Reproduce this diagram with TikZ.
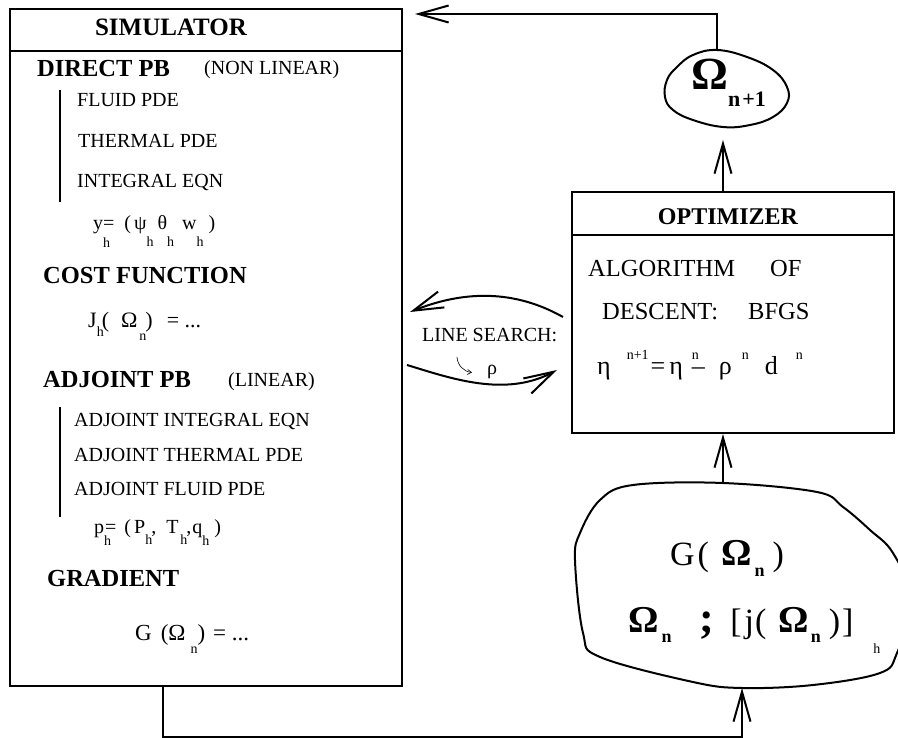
\documentclass[tikz,border=0pt]{standalone}
\usepackage{fontspec}
\setmainfont{Liberation Serif}
\usetikzlibrary{arrows.meta}
\usetikzlibrary{calc}

\newcommand{\fs}[1]{\fontsize{#1}{#1}\selectfont}
\newcommand{\lowsub}[2][12pt]{\raisebox{-#1}{\fs{14}#2}}
\newcommand{\upsup}[1]{\raisebox{15pt}{\fs{14}#1}}

\tikzset{
  txt/.style={anchor=base west, inner sep=0pt, font=\fs{20}},
  head/.style={anchor=base west, inner sep=0pt, font=\fs{24.5}\bfseries},
  opttxt/.style={anchor=base west, inner sep=0pt, font=\fs{24.5}},
  box/.style={draw, line width=2pt, inner sep=0pt},
  rule/.style={line width=2pt},
  arr/.style={line width=2pt, -{Straight Barb[length=30pt,width=17pt]}},
  smallarr/.style={line width=0.6pt, -{Straight Barb[length=4pt,width=5pt]}},
}

\begin{document}
\begin{tikzpicture}[x=1pt, y=-1pt]
  \useasboundingbox (0,0) rectangle (898,738);

  % simulator
  \node[box, minimum width=392pt, minimum height=677pt, anchor=north west] (sim) at (9,8) {};
  \draw[rule] ([yshift=-43pt]sim.north west) -- ([yshift=-43pt]sim.north east);
  \node[anchor=base, inner sep=0pt, font=\fs{25}\bfseries] (simtitle) at (171,36) {SIMULATOR};

  \node[head] (direct) at (37,77) {DIRECT PB};
  \node[txt] (nonlin) at (204,75) {(NON LINEAR)};
  \draw[rule] (60,90) -- (60,202);
  \node[txt] (fluid) at (77,107) {FLUID PDE};
  \node[txt] (thermal) at (78,148) {THERMAL PDE};
  \node[txt] (integral) at (77,188) {INTEGRAL EQN};
  \node[txt] (ystate) at (93,230) {y\rlap{\lowsub[18pt]{h}}\hspace{0pt}=\hspace{10pt}(\hspace{3pt}ψ\lowsub[17pt]{h}\hspace{4pt}θ\lowsub[17pt]{h}\hspace{8pt}w\lowsub[17pt]{h}\hspace{5pt})};

  \node[head] (cost) at (43,284) {COST FUNCTION};
  \node[txt, font=\fs{22}] (jcost) at (88,328) {J\lowsub[9pt]{h}\hspace{-2pt}(\hspace{12pt}Ω\hspace{2pt}\lowsub[13pt]{n}\hspace{-1pt})\hspace{14pt}= ...};

  \node[head] (adjoint) at (43,388) {ADJOINT PB};
  \node[txt] (lin) at (228,387) {(LINEAR)};
  \draw[rule] (60,407) -- (60,517);
  \node[txt] (adjint) at (74,427) {ADJOINT INTEGRAL EQN};
  \node[txt] (adjth) at (74,461) {ADJOINT THERMAL PDE};
  \node[txt] (adjfl) at (74,495) {ADJOINT FLUID PDE};
  \node[txt] (pstate) at (94,533) {p\rlap{\lowsub[12pt]{h}}\hspace{1pt}=\hspace{8pt}(\hspace{3pt}P\lowsub[11pt]{h}\hspace{-1pt},\hspace{10pt}T\hspace{2pt}\lowsub[11pt]{h}\hspace{-1pt},\hspace{1pt}q\rlap{\lowsub[12pt]{h}}\hspace{12pt})};

  \node[head] (grad) at (47,586) {GRADIENT};
  \node[txt, font=\fs{23}] (gform) at (135,640) {G\hspace{9pt}(Ω\rlap{\hspace{5pt}\lowsub[13pt]{n}}\hspace{12pt})\hspace{8pt}= ...};

  % optimizer
  \node[box, minimum width=322pt, minimum height=241pt, anchor=north west] (opt) at (571,191) {};
  \draw[rule] ([yshift=-44pt]opt.north west) -- ([yshift=-44pt]opt.north east);
  \node[anchor=base, inner sep=0pt, font=\fs{24}\bfseries] (opttitle) at (728,225) {OPTIMIZER};
  \node[opttxt] (algo) at (588,277) {ALGORITHM};
  \node[opttxt] (of) at (770,277) {OF};
  \node[opttxt] (descent) at (602,320) {DESCENT:};
  \node[opttxt] (bfgs) at (748,320) {BFGS};
  \node[opttxt, font=\fs{26}] (update) at (597,375) {η\hspace{16pt}\upsup{n+1}\hspace{2pt}=\hspace{4pt}η\hspace{9pt}\rlap{\upsup{n}}–\hspace{14pt}ρ\hspace{10pt}\upsup{n}\hspace{16pt}d\hspace{18pt}\upsup{n}};

  % line search
  \node[txt] (lstxt) at (422,342) {LINE SEARCH:};
  \node[txt] (rho) at (487,375) {ρ};
  \draw[smallarr] ([shift={(35pt,-15pt)}]lstxt.base west) to[bend right=40] ([xshift=-15pt]rho.west);
  \coordinate (lsa) at (563,317);
  \coordinate (lsb) at (410,312);
  \coordinate (lsc) at (407,365);
  \coordinate (lsd) at (557,370);
  \draw[arr] (lsa) .. controls (515,290) and (465,290) .. (lsb);
  \draw[arr] (lsc) .. controls (450,378) and (505,398) .. (lsd);

  % new domain
  \draw[rule] plot[smooth cycle, tension=0.7] coordinates {(717,50) (747,57) (773,70) (787,87) (787,103) (773,117) (750,125) (723,127) (693,120) (673,110) (665,97) (667,80) (677,67) (693,55)};
  \coordinate (omtop) at (717,50);
  \coordinate (ombot) at (723,127);
  \node[anchor=base west, inner sep=0pt] (omnext) at (691,90) {\fs{46}\bfseries Ω\raisebox{-17pt}{\fs{22}n\hspace{2pt}+1}};

  % gradient domain
  \draw[rule] plot[smooth cycle, tension=0.6] coordinates {(723,483) (817,492) (843,507) (870,530) (893,553) (912,600) (897,653) (880,673) (813,685) (742,688) (693,682) (600,657) (583,633) (575,560) (580,533) (600,500) (633,485)};
  \coordinate (gtop) at (723,483);
  \coordinate (gbot) at (742,688);
  \node[anchor=base west, inner sep=0pt] (gomega) at (670,565) {\fs{34}G\hspace{3pt}(\hspace{12pt}{\bfseries\fs{38}Ω}\hspace{3pt}\raisebox{-11pt}{\fs{18}\bfseries n}\hspace{8pt})};
  \node[anchor=base west, inner sep=0pt] (gdata) at (628,632) {{\bfseries\fs{38}Ω}\hspace{3pt}\raisebox{-10pt}{\fs{18}\bfseries n}\hspace{28pt}{\fs{44}\bfseries ;}\hspace{16pt}{\fs{34}[\hspace{3pt}j\hspace{1pt}(}\hspace{12pt}{\bfseries\fs{38}Ω}\hspace{2pt}\raisebox{-10pt}{\fs{18}\bfseries n}\hspace{8pt}{\fs{34})\hspace{2pt}]}\hspace{20pt}\raisebox{-21pt}{\fs{14}h}};

  % loop
  \draw[arr] ([xshift=154pt]sim.south west) -- ++(0,50) -| (gbot);
  \draw[arr] (gtop) -- (gtop |- opt.south);
  \draw[arr, shorten >=13pt] (ombot |- opt.north) -- (ombot);
  \draw[arr] (omtop) |- ([shift={(12pt,-6pt)}]sim.north east);
\end{tikzpicture}
\end{document}
